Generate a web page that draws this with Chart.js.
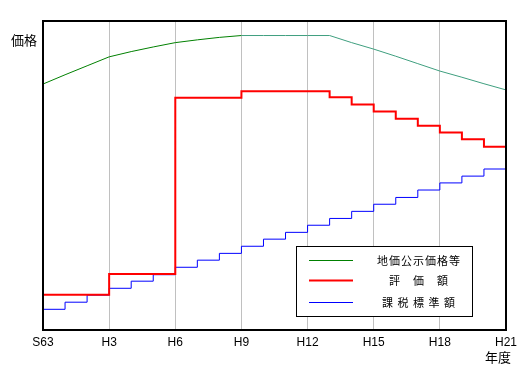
<!DOCTYPE html>
<html><head><meta charset="utf-8">
<script src="https://cdn.jsdelivr.net/npm/chart.js@4"></script>
<style>html,body{margin:0;padding:0;background:#fff;}#wrap{width:532px;height:375px;}</style>
</head><body><div id="wrap"><canvas id="c" width="532" height="375"></canvas></div>
<script>
const years = ['S63','H1','H2','H3','H4','H5','H6','H7','H8','H9','H10','H11','H12','H13','H14','H15','H16','H17','H18','H19','H20','H21'];
const seriesNames = ['地価公示価格等','評　価　額','課 税 標 準 額'];
const landPrice = [79.6,82.6,85.5,88.4,90.1,91.6,93.0,93.9,94.7,95.3,95.3,95.3,95.3,95.3,93.0,90.9,88.6,86.2,83.8,81.8,79.7,77.7];
const assessed  = [11.4,11.4,11.4,18.1,18.1,18.1,75.2,75.2,75.2,77.3,77.3,77.3,77.3,75.3,73.0,70.7,68.4,66.1,63.9,61.7,59.3,59.3];
const taxBase   = [6.7,9.0,11.3,13.5,15.8,17.9,20.3,22.6,24.8,27.1,29.4,31.6,33.9,36.1,38.4,40.7,42.9,45.3,47.6,49.8,52.1,52.1];
const yLabel = '価格';
const xLabel = '年度';

const pts = arr => arr.map((v,i)=>({x:i,y:v}));
const GREEN='#008000', TEAL='#3f9f7f';

const boxPlugin = {
  id:'box',
  afterDatasetsDraw(chart){
    const {ctx, chartArea:a} = chart;
    ctx.save();
    ctx.strokeStyle='#000'; ctx.lineWidth=2;
    ctx.strokeRect(a.left, a.top, a.right-a.left, a.bottom-a.top);
    // legend
    const lx=296.5, ly=246.5, lw=176, lh=70;
    ctx.fillStyle='#fff'; ctx.fillRect(lx,ly,lw,lh);
    ctx.lineWidth=1; ctx.strokeRect(lx,ly,lw,lh);
    const rows=[260.5,280.5,302.5];
    const colors=[GREEN,'#ff0000','#0000ff'];
    chart.data.datasets.forEach((ds,i)=>{
      ctx.strokeStyle=colors[i]; ctx.lineWidth=ds.borderWidth;
      ctx.beginPath(); ctx.moveTo(309,rows[i]); ctx.lineTo(353,rows[i]); ctx.stroke();
      ctx.fillStyle='#000';
      ctx.font='11px "Noto Sans CJK JP"';
      ctx.textAlign='center'; ctx.textBaseline='middle';
      ctx.letterSpacing='1px';
      ctx.fillText(ds.label, 419, rows[i]);
    });
    ctx.letterSpacing='0px';
    ctx.font='13px "Noto Sans CJK JP"';
    ctx.textAlign='center'; ctx.textBaseline='middle';
    ctx.fillStyle='#000';
    ctx.fillText(yLabel, 24, 40);
    ctx.fillText(xLabel, 498, 357);
    ctx.restore();
  }
};

new Chart(document.getElementById('c'), {
  type:'line',
  data:{datasets:[
    {label:seriesNames[0], data:pts(landPrice), borderColor:GREEN, borderWidth:1, pointRadius:0, tension:0,
     segment:{borderColor:c=> c.p0.parsed.x>=9 ? TEAL : GREEN}},
    {label:seriesNames[1], data:pts(assessed), borderColor:'#ff0000', borderWidth:2, pointRadius:0, stepped:'before'},
    {label:seriesNames[2], data:pts(taxBase), borderColor:'#0000ff', borderWidth:1, pointRadius:0, stepped:'before'}
  ]},
  options:{
    responsive:false, animation:false,
    layout:{padding:{left:43,right:26,top:21,bottom:0}},
    plugins:{legend:{display:false}, tooltip:{enabled:false}},
    scales:{
      x:{type:'linear', min:0, max:21,
        afterFit(s){ s.height=45; },
        grid:{color:'#c0c0c0', lineWidth:1, tickLength:0, drawTicks:false},
        border:{display:false},
        ticks:{stepSize:3, autoSkip:false, maxRotation:0, padding:5, color:'#000',
          font:{family:'"Liberation Sans", Arial', size:12},
          callback:v=>years[v]}
      },
      y:{display:false, min:0, max:100}
    }
  },
  plugins:[boxPlugin]
});
</script></body></html>
